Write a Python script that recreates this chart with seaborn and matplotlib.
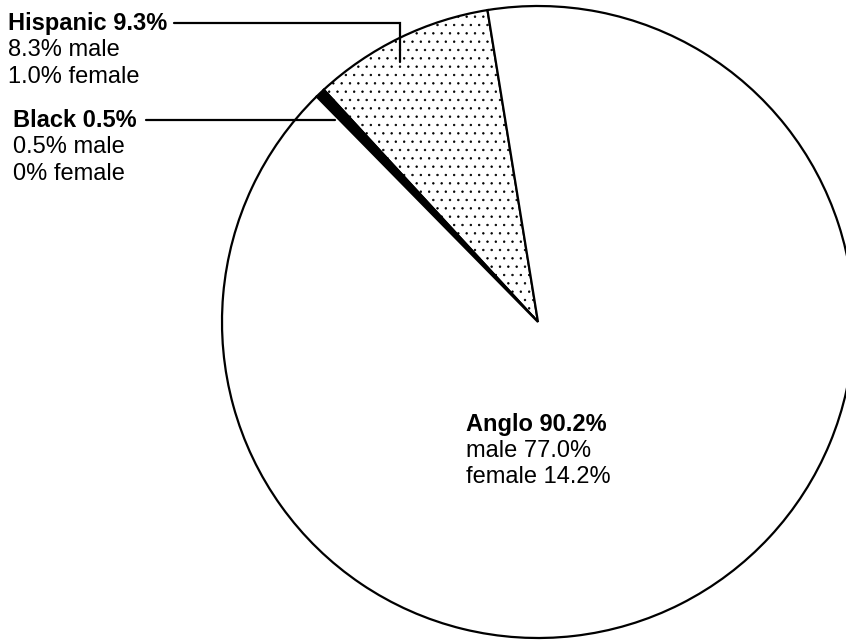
import matplotlib
matplotlib.use("Agg")
import matplotlib.pyplot as plt
import seaborn as sns

sns.set_theme(style="white")
plt.rcParams["font.family"] = ["Liberation Sans", "DejaVu Sans"]
plt.rcParams["text.color"] = "black"
plt.rcParams["hatch.color"] = "#6a6a6a"
plt.rcParams["hatch.linewidth"] = 0.5

# Ethnic composition (percent of total)
groups = ["Hispanic", "Black", "Anglo"]
shares = [9.3, 0.5, 90.2]
male = [8.3, 0.5, 77.0]
female = [1.0, 0.0, 14.2]

W, H = 846, 644
fig = plt.figure(figsize=(W / 100, H / 100), dpi=100)
ax = fig.add_axes([0, 0, 1, 1])

cx, cy, r = 538, H - 322, 316
wedges, _ = ax.pie(
    shares,
    startangle=99.2,
    counterclock=True,
    center=(cx, cy),
    radius=r,
    colors=["white", "black", "white"],
    wedgeprops=dict(edgecolor="black", linewidth=1.6),
    frame=True,
)
ax.set_xlim(0, W)
ax.set_ylim(0, H)
ax.set_aspect("equal")
ax.axis("off")

# speckled fill for the Hispanic slice
wedges[0].set_hatch("..")

fs = 17
c = "black"

# Hispanic label and leader
ax.text(8, H - 23, f"{groups[0]} {shares[0]:.1f}%", fontsize=fs, fontweight="bold", va="center", color=c)
ax.text(8, H - 50, f"{male[0]:.1f}% male", fontsize=fs, va="center", color=c)
ax.text(8, H - 77, f"{female[0]:.1f}% female", fontsize=fs, va="center", color=c)
ax.plot([174, 400, 400], [H - 23, H - 23, H - 62], color="black", lw=1.6,
        solid_joinstyle="miter")

# Black label and leader
ax.text(13, H - 120, f"{groups[1]} {shares[1]:.1f}%", fontsize=fs, fontweight="bold", va="center", color=c)
ax.text(13, H - 147, f"{male[1]:.1f}% male", fontsize=fs, va="center", color=c)
ax.text(13, H - 174, f"{female[1]:.0f}% female", fontsize=fs, va="center", color=c)
ax.plot([146, 335], [H - 120, H - 120], color="black", lw=1.6)

# Anglo label inside the slice
ax.text(466, H - 425, f"{groups[2]} {shares[2]:.1f}%", fontsize=fs, fontweight="bold", va="center", color=c)
ax.text(466, H - 451, f"male {male[2]:.1f}%", fontsize=fs, va="center", color=c)
ax.text(466, H - 477, f"female {female[2]:.1f}%", fontsize=fs, va="center", color=c)

fig.savefig("out.png", dpi=100, facecolor="white")
